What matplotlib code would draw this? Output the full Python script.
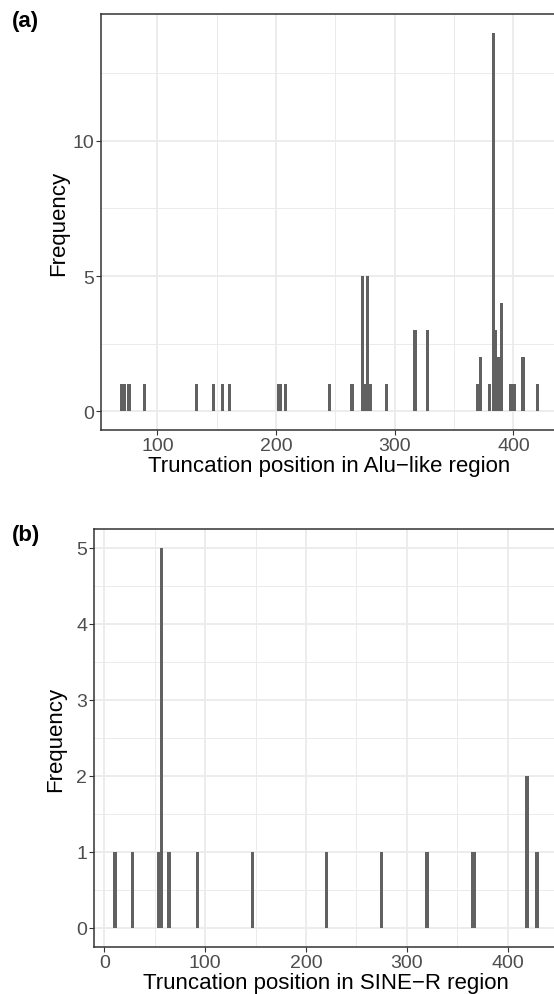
import matplotlib
matplotlib.use("Agg")
import matplotlib.pyplot as plt
import numpy as np

plt.rcParams['font.family'] = ['Liberation Sans', 'DejaVu Sans']

# panel (a): truncation positions in Alu-like region and their counts
alu_pos = [70, 72, 76, 89, 133, 147, 155, 161, 202, 204, 208, 245, 264,
           273, 275, 277, 279, 293, 317, 327.5, 370, 372, 380, 383, 385,
           387, 390, 398, 401, 408, 420]
alu_freq = [1, 1, 1, 1, 1, 1, 1, 1, 1, 1, 1, 1, 1,
            5, 1, 5, 1, 1, 3, 3, 1, 2, 1, 14, 3,
            2, 4, 1, 1, 2, 1]

# panel (b): truncation positions in SINE-R region
siner_pos = [10.5, 27.5, 54, 56.5, 64, 92.5, 147, 220, 274.5, 320, 365, 367, 419, 429]
siner_freq = [1, 1, 1, 5, 1, 1, 1, 1, 1, 1, 1, 1, 2, 1]

bar_col = '#616161'
grid_col = '#EBEBEB'
tick_col = '#4D4D4D'

W, H = 554, 995
fig = plt.figure(figsize=(W / 100, H / 100), dpi=100)


def panel(rect, pos, freq, width, xlim, ylim, xmaj, xmin, ymaj, ymin, xlabel, tag, tag_y, ypad):
    ax = fig.add_axes(rect)
    ax.bar(pos, freq, width=width, color=bar_col, linewidth=0, zorder=3)
    ax.set_xlim(*xlim)
    ax.set_ylim(*ylim)
    ax.set_xticks(xmaj)
    ax.set_xticks(xmin, minor=True)
    ax.set_yticks(ymaj)
    ax.set_yticks(ymin, minor=True)
    ax.grid(which='major', color=grid_col, lw=1.3, zorder=0)
    ax.grid(which='minor', color=grid_col, lw=0.7, zorder=0)
    ax.tick_params(which='minor', length=0)
    ax.tick_params(which='major', length=3.5, width=0.8, color='#333333',
                   labelcolor=tick_col, labelsize=14, pad=1.5)
    for s in ax.spines.values():
        s.set_color('#333333')
        s.set_linewidth(1.1)
    ax.set_xlabel(xlabel, fontsize=16, labelpad=1)
    ax.set_ylabel('Frequency', fontsize=16, labelpad=ypad)
    fig.text(12 / W, 1 - tag_y / H, tag, fontsize=16, fontweight='bold',
             va='center', ha='left')
    return ax


panel([101 / W, 1 - 431 / H, 457 / W, 416 / H], alu_pos, alu_freq, 2.8,
      (52.5, 437.5), (-0.7, 14.7), [100, 200, 300, 400], [150, 250, 350],
      [0, 5, 10], [2.5, 7.5, 12.5],
      'Truncation position in Alu\u2212like region', '(a)', 22, 2)

panel([94 / W, 1 - 948 / H, 464 / W, 418 / H], siner_pos, siner_freq, 3.3,
      (-10.4, 449.9), (-0.25, 5.25), [0, 100, 200, 300, 400], [50, 150, 250, 350],
      [0, 1, 2, 3, 4, 5], [0.5, 1.5, 2.5, 3.5, 4.5],
      'Truncation position in SINE\u2212R region', '(b)', 536, 7)

fig.savefig('out.png', dpi=100)
